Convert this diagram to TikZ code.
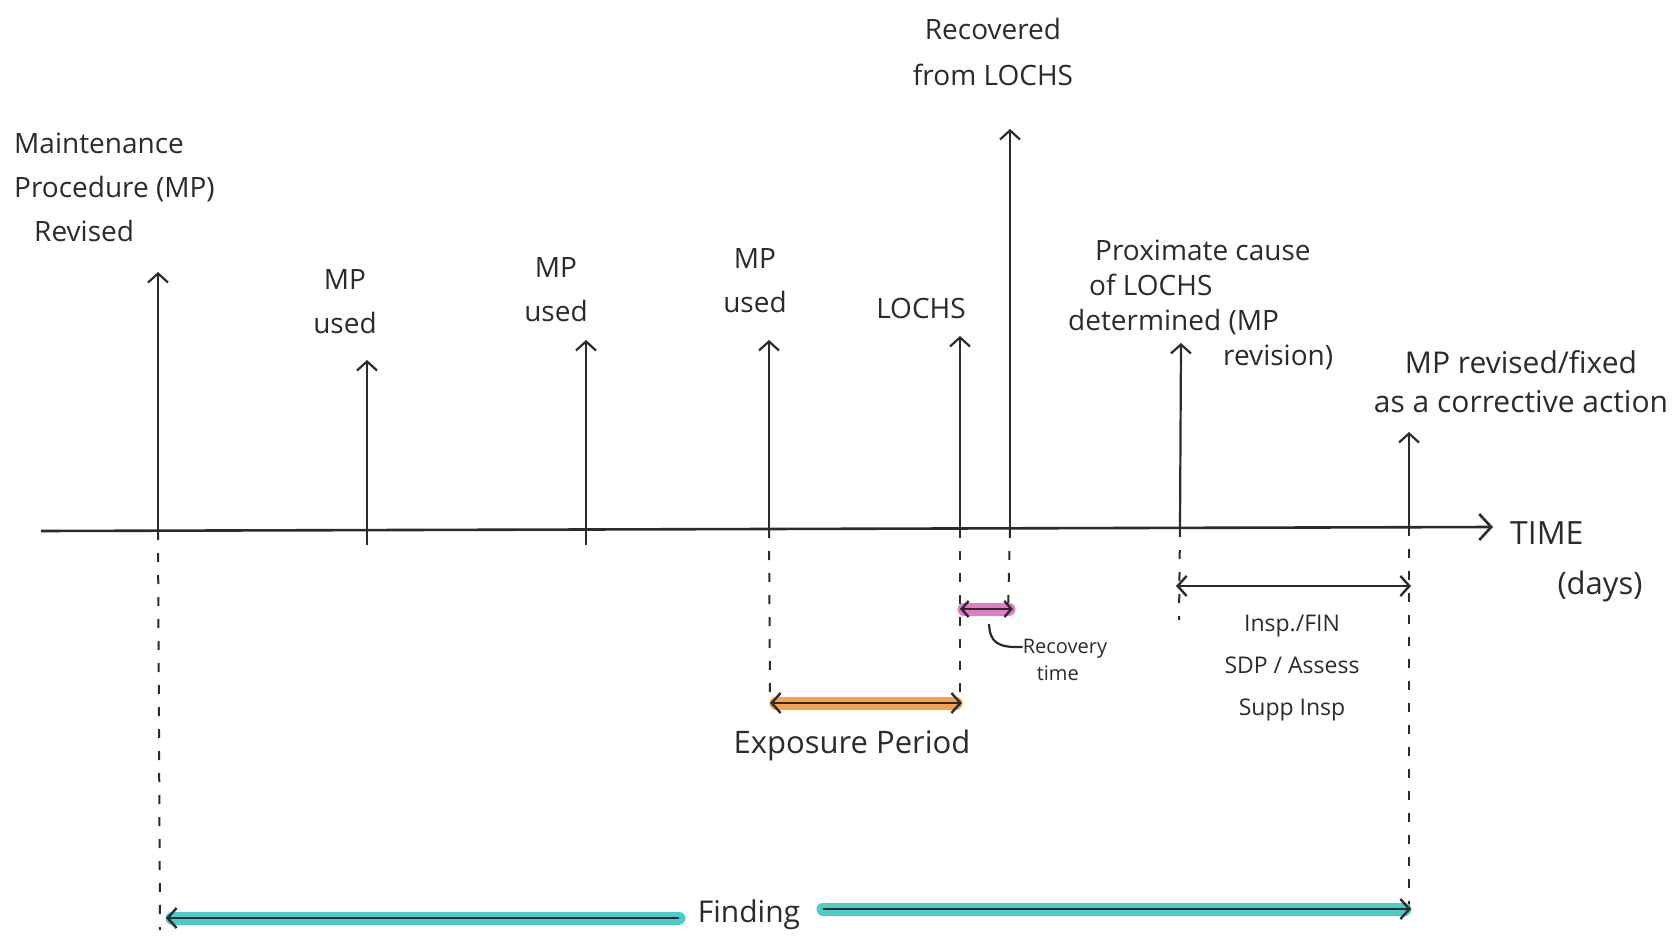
\documentclass[tikz,border=0pt]{standalone}
\usepackage{fontspec}
\setmainfont{Open Sans}
\usetikzlibrary{arrows.meta}
\definecolor{ink}{HTML}{2B2B2B}
\definecolor{tealhl}{HTML}{4DCACA}
\definecolor{orangehl}{HTML}{F6A24E}
\definecolor{pinkhl}{HTML}{E27CC6}
\tikzset{
  lbl/.style={text=ink, font=\fontsize{28}{44}\selectfont, align=center, inner sep=0pt},
  smalllbl/.style={text=ink, font=\fontsize{20}{27}\selectfont, align=left, inner sep=0pt},
  barb/.style={-{Straight Barb[length=9pt,width=20pt]}},
  dbarb/.style={{Straight Barb[length=9pt,width=20pt]}-{Straight Barb[length=9pt,width=20pt]}},
  evt/.style={draw=ink, line width=2.2pt, barb},
  axisline/.style={draw=ink, line width=2.6pt, -{Straight Barb[length=12pt,width=26pt]}},
  guide/.style={draw=ink, line width=2pt, dash pattern=on 9pt off 13pt},
  span/.style={draw=ink, line width=2.4pt, dbarb},
  hl/.style={line width=13pt, line cap=round, draw=#1},
  hook/.style={draw=ink, line width=2.2pt},
}
\begin{document}
\begin{tikzpicture}[x=1pt,y=-1pt]
\useasboundingbox (0,0) rectangle (1676,952);
% axis
\coordinate (ax0) at (41,531);
\coordinate (ax1) at (1493,527);
\draw[axisline] (ax0) -- (ax1);
\node[lbl, anchor=west, font=\fontsize{32}{40}\selectfont] (time) at (1510,533) {TIME};
\node[lbl, font=\fontsize{31}{40}\selectfont] (days) at (1600,586) {(days)};

% event positions on the axis
\coordinate (e1) at (158,531);
\coordinate (e2) at (367,545);
\coordinate (e3) at (586,545);
\coordinate (e4) at (769,529);
\coordinate (e5) at (960,529);
\coordinate (e6) at (1010,529);
\coordinate (e7) at (1180,528);
\coordinate (e8) at (1409,527);
% arrow tops
\coordinate (t1) at (158,272);
\coordinate (t2) at (367,360);
\coordinate (t3) at (586,340);
\coordinate (t4) at (769,340);
\coordinate (t5) at (960,336);
\coordinate (t6) at (1010,129);
\coordinate (t7) at (1181,343);
\coordinate (t8) at (1409,432);
\foreach \i in {1,...,8} {\draw[evt] (e\i) -- (t\i);}

% guide ends
\coordinate (g1) at (160,930);
\coordinate (g4) at (770,705);
\coordinate (g5) at (960,705);
\coordinate (g6) at (1008,612);
\coordinate (g7) at (1179,620);
\coordinate (g8) at (1409,905);
\foreach \i in {1,4,5,6,7,8} {\draw[guide] (e\i) -- (g\i);}

% labels above
\node[lbl, align=left, anchor=west] (l1) at (14,187) {Maintenance\\Procedure (MP)\\\hspace*{20pt}Revised};
\node[lbl] (l2) at (345,302) {MP\\used};
\node[lbl] (l3) at (556,290) {MP\\used};
\node[lbl] (l4) at (755,281) {MP\\used};
\node[lbl] (l5) at (921,308) {LOCHS};
\node[lbl, font=\fontsize{28}{46}\selectfont] (l6) at (993,52) {Recovered\\from LOCHS};
\node[lbl, align=left, anchor=west, font=\fontsize{28}{35}\selectfont] (l7) at (1068,305)
  {\hspace*{27pt}Proximate cause\\\hspace*{21pt}of LOCHS\\determined (MP\\\hspace*{155pt}revision)};
\node[lbl, font=\fontsize{30}{39}\selectfont] (l8) at (1521,382) {MP revised/fixed\\as a corrective action};

% inspection span
\coordinate (s7a) at (1176,586);
\coordinate (s8a) at (1411,586);
\draw[span] (s7a) -- (s8a);
\node[lbl, font=\fontsize{23}{42}\selectfont] (insp) at (1292,668) {Insp./FIN\\SDP / Assess\\Supp Insp};

% recovery time
\coordinate (pa) at (960,609);
\coordinate (pb) at (1013,609);
\draw[hl=pinkhl] ([xshift=4pt]pa) -- ([xshift=-4pt]pb);
\draw[span, {Straight Barb[length=7pt,width=16pt]}-{Straight Barb[length=7pt,width=16pt]}] (pa) -- (pb);
\node[smalllbl] (rec) at (1065,660) {Recovery\\\hspace*{14pt}time};
\coordinate (hk) at (989,624);
\draw[hook] (hk) .. controls (990,642) and (997,648) .. (rec.west |- 1010,647);

% exposure period
\coordinate (oa) at (770,703);
\coordinate (ob) at (962,703);
\draw[hl=orangehl] ([xshift=6pt]oa) -- ([xshift=-6pt]ob);
\draw[span] (oa) -- (ob);
\node[lbl, font=\fontsize{31}{40}\selectfont] (expo) at (852,745) {Exposure Period};

% finding
\node[lbl, font=\fontsize{30}{36}\selectfont] (find) at (749,915) {Finding};
\coordinate (fa) at (166,918);
\coordinate (fa0) at (679,918);
\coordinate (fb) at (1411,909);
\coordinate (fb0) at (823,909);
\draw[hl=tealhl] (fa0) -- ([xshift=6pt]fa);
\draw[hl=tealhl] (fb0) -- ([xshift=-6pt]fb);
\draw[draw=ink, line width=2.4pt, barb] (fa0) -- (fa);
\draw[draw=ink, line width=2.4pt, barb] (fb0) -- (fb);
\end{tikzpicture}
\end{document}
